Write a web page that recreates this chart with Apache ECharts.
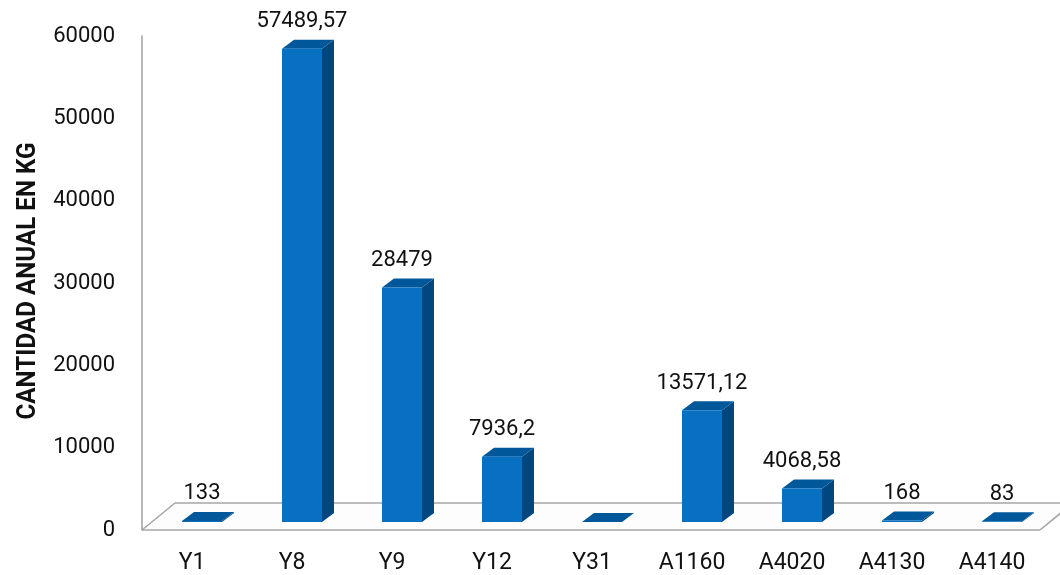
<!DOCTYPE html>
<html>
<head>
<meta charset="utf-8">
<script src="https://cdn.jsdelivr.net/npm/echarts@6/dist/echarts.min.js"></script>
<style>
  html, body { margin: 0; padding: 0; background: #fff; }
  #chart { width: 1060px; height: 575px; }
</style>
</head>
<body>
<div id="chart"></div>
<script>
// residuos por codigo, cantidad anual en kg
const categories = ['Y1', 'Y8', 'Y9', 'Y12', 'Y31', 'A1160', 'A4020', 'A4130', 'A4140'];
const values = [133, 57489.57, 28479, 7936.2, 0, 13571.12, 4068.58, 168, 83];
const yMax = 60000;
const yStep = 10000;
const yTitle = 'CANTIDAD ANUAL EN KG';

const FRONT = '#0870c0';
const SIDE = '#00477f';
const TOP = '#00589b';
const EDGE = '#a6a6a6';

// profundidad del efecto 3d
const DX = 12, DY = 9;

function fmt(v) {
  return String(v).replace('.', ',');
}

// titulo condensado: se estira/encoge a lo largo para que mida ~277px
const TITLE_FONT = 'bold 26px Roboto';
const ctx = document.createElement('canvas').getContext('2d');
ctx.font = TITLE_FONT;
const titleScale = 277 / ctx.measureText(yTitle).width;

function renderBar(params, api) {
  const i = api.value(0);
  const v = api.value(1);
  const p = api.coord([i, v]);
  const b = api.coord([i, 0]);
  const cx = p[0] + 10;
  const top = p[1] - 8;
  const base = b[1] - 8;
  const hw = 20;
  const kids = [
    { type: 'polygon', shape: { points: [[cx + hw, top], [cx + hw + DX, top - DY], [cx + hw + DX, base - DY], [cx + hw, base]] },
      style: { fill: SIDE } },
    { type: 'polygon', shape: { points: [[cx - hw, top], [cx - hw + DX, top - DY], [cx + hw + DX, top - DY], [cx + hw, top]] },
      style: { fill: TOP } },
    { type: 'rect', shape: { x: cx - hw, y: top, width: hw * 2, height: base - top },
      style: { fill: FRONT } }
  ];
  if (v > 0) {
    kids.push({
      type: 'text',
      style: { text: fmt(v), x: cx, y: top - 27, align: 'center', verticalAlign: 'middle',
        fill: '#111', font: '22px Roboto' }
    });
  }
  return { type: 'group', children: kids };
}

function renderFloor(params, api) {
  const cs = params.coordSys;
  const x0 = cs.x, y0 = cs.y + cs.height;
  const x1 = cs.x + cs.width - 2;
  const ox = 33, oy = 27;
  const line = (a, b) => ({ type: 'line', shape: { x1: a[0], y1: a[1], x2: b[0], y2: b[1] },
    style: { stroke: EDGE, lineWidth: 1.6 } });
  return {
    type: 'group',
    children: [
      { type: 'polygon', shape: { points: [[x0, y0], [x0 + ox, y0 - oy], [x1 + ox, y0 - oy], [x1, y0]] },
        style: { fill: '#fdfdfd' } },
      line([x0, y0], [x1, y0]),
      line([x0, y0], [x0 + ox, y0 - oy]),
      line([x0 + ox, y0 - oy], [x1 + ox, y0 - oy]),
      line([x1, y0], [x1 + ox, y0 - oy])
    ]
  };
}

const chart = echarts.init(document.getElementById('chart'));
chart.setOption({
  animation: false,
  grid: { left: 142, right: 18, top: 36, bottom: 45 },
  graphic: [{
    type: 'text',
    x: 28,
    y: 281,
    rotation: Math.PI / 2,
    scaleX: titleScale,
    style: { text: yTitle, font: TITLE_FONT, fill: '#111', align: 'center', verticalAlign: 'middle' }
  }],
  xAxis: {
    type: 'category',
    data: categories,
    axisLine: { show: false },
    axisTick: { show: false },
    axisLabel: { color: '#111', fontSize: 23, fontFamily: 'Roboto', margin: 22 }
  },
  yAxis: {
    type: 'value',
    min: 0,
    max: yMax,
    interval: yStep,
    axisLine: { show: true, lineStyle: { color: EDGE, width: 1.6 } },
    axisTick: { show: false },
    splitLine: { show: false },
    axisLabel: { color: '#111', fontSize: 22, fontFamily: 'Roboto', margin: 27, formatter: v => String(v) }
  },
  series: [
    {
      type: 'custom',
      renderItem: renderFloor,
      data: [[0, 0]],
      clip: false,
      silent: true,
      z: 1
    },
    {
      type: 'custom',
      renderItem: renderBar,
      data: values.map((v, i) => [i, v]),
      encode: { x: 0, y: 1 },
      clip: false,
      z: 2
    }
  ]
});
</script>
</body>
</html>
